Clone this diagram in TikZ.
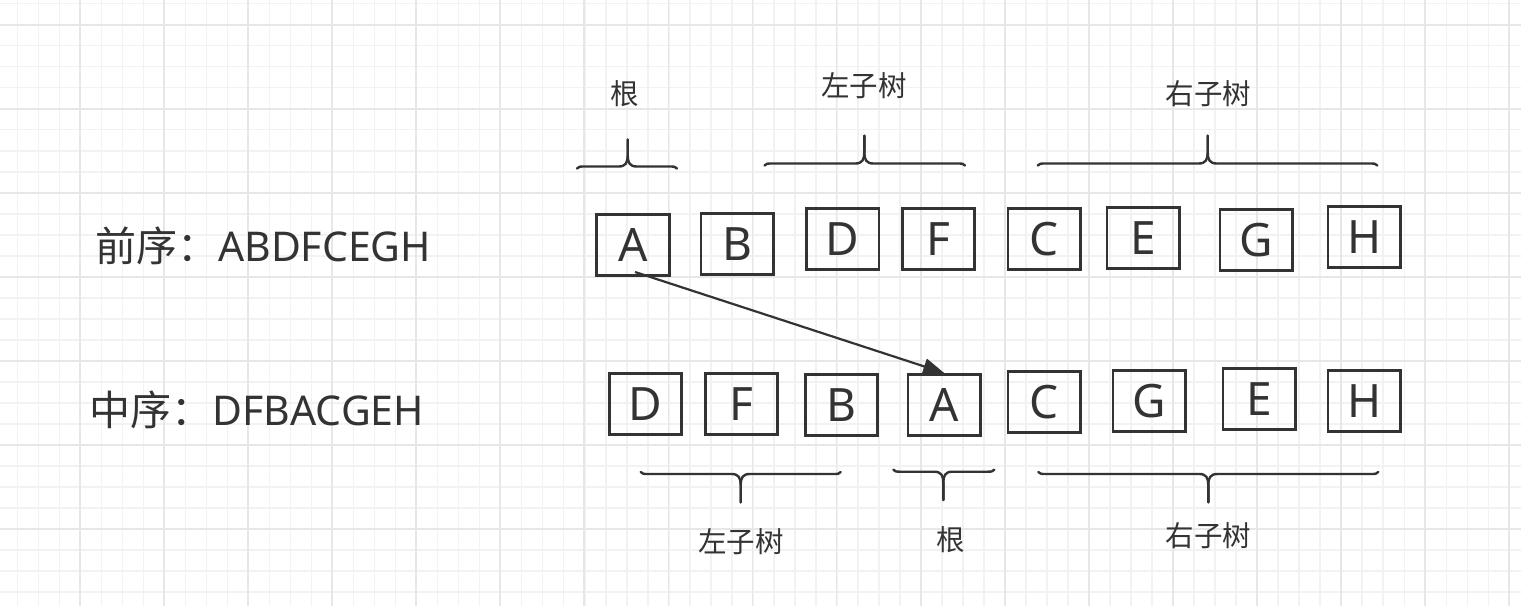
\documentclass[tikz,border=0pt]{standalone}
\usepackage{fontspec}
\setmainfont{Noto Sans}
\newfontfamily\cjk{Noto Sans CJK SC}
\usetikzlibrary{arrows.meta}
\definecolor{ink}{RGB}{51,51,51}
\definecolor{gminor}{RGB}{242,242,242}
\definecolor{gmajor}{RGB}{231,231,231}
\tikzset{
 cell/.style={draw=ink, line width=2.6pt, minimum width=72.5pt, minimum height=61.5pt, inner sep=0pt, text=ink, font=\fontsize{46}{46}\selectfont, text height=32.8pt, text depth=0pt},
 seqlabel/.style={inner sep=0pt, text=ink, font=\fontsize{41}{41}\selectfont, anchor=base west},
 partlabel/.style={inner sep=0pt, text=ink, font=\cjk\fontsize{28.5}{28.5}\selectfont, text height=22.8pt, text depth=2.3pt},
 bracestyle/.style={draw=ink, line width=2.4pt, line cap=round, line join=round},
 link/.style={draw=ink, line width=2.2pt, -{Triangle[length=21pt,width=16pt]}},
 gridminor/.style={draw=gminor, line width=1.6pt},
 gridmajor/.style={draw=gmajor, line width=1.8pt},
}
% x1, x2, xm, y(line), ytip, d (-1 tip up, +1 tip down)
\newcommand\drawbrace[6]{%
 \draw[bracestyle] (#1,{#4-2*(#6)}) .. controls (#1+2,#4) .. (#1+9,#4) -- (#3-9,#4) .. controls (#3-2,#4) and (#3,{#4+4*(#6)}) .. (#3,{#4+11*(#6)}) -- (#3,#5);
 \draw[bracestyle] (#2,{#4-2*(#6)}) .. controls (#2-2,#4) .. (#2-9,#4) -- (#3+9,#4) .. controls (#3+2,#4) and (#3,{#4+4*(#6)}) .. (#3,{#4+11*(#6)}) -- (#3,#5);
}
\begin{document}
\begin{tikzpicture}[x=1pt,y=-1pt]
\useasboundingbox (0,0) rectangle (1521,606);
\fill[white] (0,0) rectangle (1521,606);
\begin{scope}
\clip (0,0) rectangle (1521,606);
\foreach \k in {-1,...,72} {
  \pgfmathsetmacro\xx{17.3+21.015*\k}
  \draw[gridminor] (\xx,0) -- (\xx,606);
}
\foreach \k in {0,...,29} {
  \pgfmathsetmacro\yy{3.6+21.015*\k}
  \draw[gridminor] (0,\yy) -- (1521,\yy);
}
\foreach \m in {-1,...,17} {
  \pgfmathsetmacro\xx{80+84.06*\m}
  \draw[gridmajor] (\xx,0) -- (\xx,606);
}
\foreach \m in {0,...,7} {
  \pgfmathsetmacro\yy{24.6+84.06*\m}
  \draw[gridmajor] (0,\yy) -- (1521,\yy);
}
\end{scope}

% sequence labels
\node[seqlabel] (pre) at (95,261) {{\cjk 前序：}ABDFCEGH};
\node[seqlabel] (mid) at (89.5,425) {{\cjk 中序：}DFBACGEH};

% top row (preorder)
\node[cell] (tA) at (633,245) {A};
\node[cell] (tB) at (737.3,244) {B};
\node[cell] (tD) at (842.7,239) {D};
\node[cell] (tF) at (938.5,239) {F};
\node[cell] (tC) at (1044.2,239) {C};
\node[cell] (tE) at (1143.2,238) {E};
\node[cell] (tG) at (1256.2,240) {G};
\node[cell] (tH) at (1364.2,237) {H};

% bottom row (inorder)
\node[cell] (bD) at (645.5,404) {D};
\node[cell] (bF) at (741.5,404) {F};
\node[cell] (bB) at (841.5,405) {B};
\node[cell] (bA) at (944.2,405) {A};
\node[cell] (bC) at (1044.2,402) {C};
\node[cell] (bG) at (1149.2,401) {G};
\node[cell] (bE) at (1259.2,399) {E};
\node[cell] (bH) at (1364.2,401) {H};

% arrow
\coordinate (s) at (635,272);
\draw[link] (s) -- (bA.north);

% top braces
\drawbrace{577}{677}{627.7}{166.5}{139.5}{-1}
\drawbrace{764.5}{965}{864.3}{163.5}{135.7}{-1}
\drawbrace{1037.7}{1377.3}{1207.7}{163.5}{135.7}{-1}
% bottom braces
\drawbrace{640.7}{840.7}{740.7}{474}{502.3}{1}
\drawbrace{893.3}{994.3}{943.3}{471.7}{500}{1}
\drawbrace{1038.3}{1378.3}{1208.3}{474}{502.3}{1}

% part labels
\node[partlabel] (l1) at (625,94.7) {根};
\node[partlabel] (l2) at (864,86) {左子树};
\node[partlabel] (l3) at (1208.3,94) {右子树};
\node[partlabel] (l4) at (741,542) {左子树};
\node[partlabel] (l5) at (950.5,540) {根};
\node[partlabel] (l6) at (1208.7,536) {右子树};
\end{tikzpicture}
\end{document}
